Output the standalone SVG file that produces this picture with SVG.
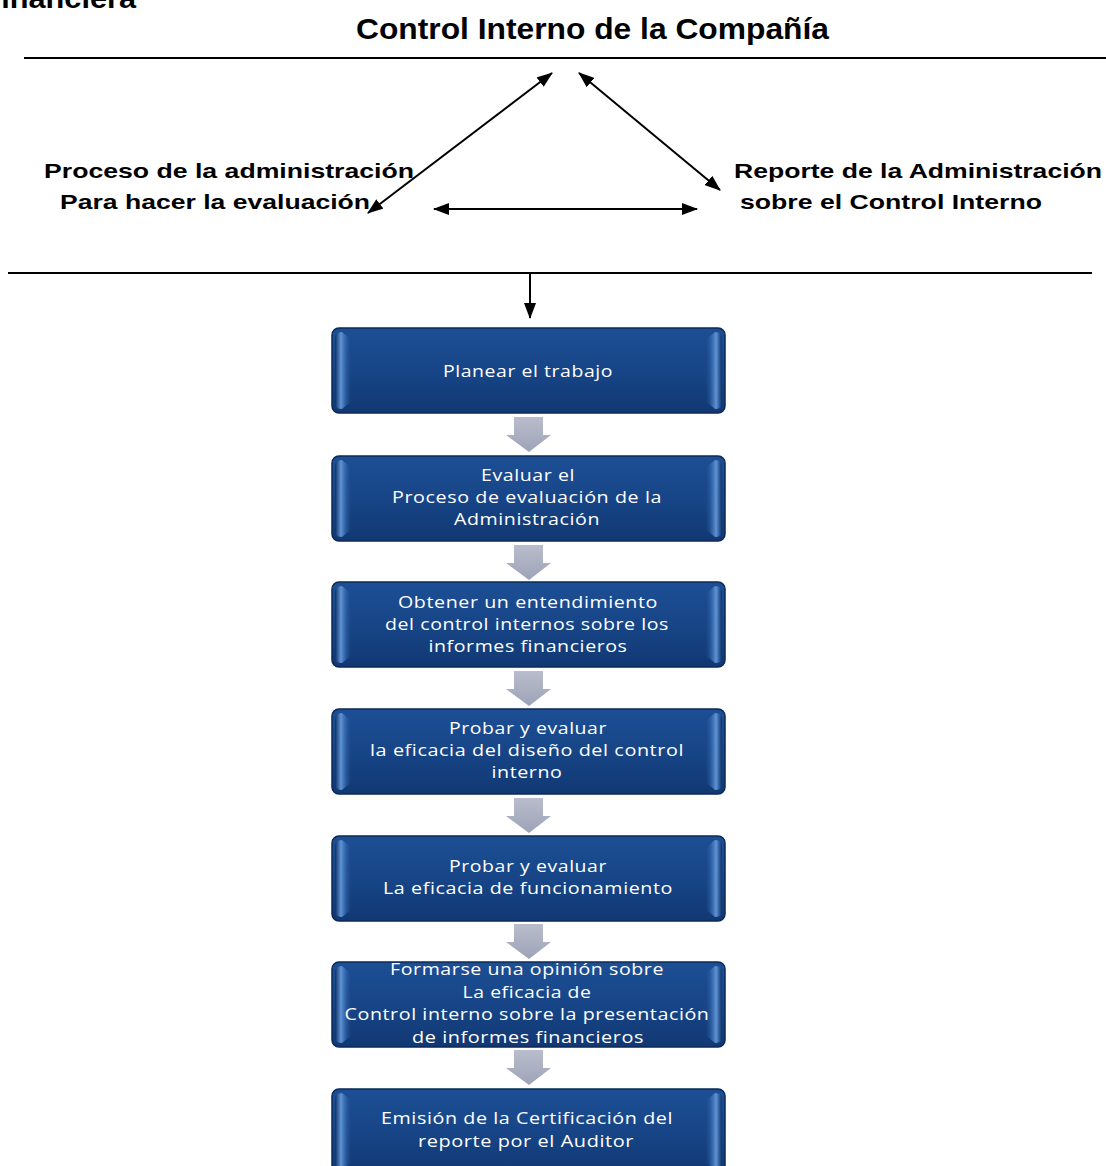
<svg xmlns="http://www.w3.org/2000/svg" width="1106" height="1166" viewBox="0 0 1106 1166">
  <defs>
    <style>
      .hdr { font-family: "Liberation Sans", Arial, sans-serif; font-weight: bold; fill: #000; }
      .rule { stroke: #000; stroke-width: 2; fill: none; }
      .conn { stroke: #000; stroke-width: 2; fill: none; }
      .box { fill: url(#boxFill); stroke: #0b2a58; stroke-width: 1.5; }
      .bevelL { fill: url(#bevelLeft); }
      .bevelR { fill: url(#bevelRight); }
      .lbl { font-family: "Open Sans", "Noto Sans", sans-serif; font-size: 17px; fill: #ffffff; text-anchor: middle; letter-spacing: 0.5px; }
      .step { fill: url(#stepFill); }
    </style>
    <linearGradient id="boxFill" x1="0" y1="0" x2="0" y2="1">
      <stop offset="0" stop-color="#1d4f95"/>
      <stop offset="0.5" stop-color="#174587"/>
      <stop offset="1" stop-color="#113873"/>
    </linearGradient>
    <linearGradient id="bevelLeft" x1="0" y1="0" x2="1" y2="0">
      <stop offset="0" stop-color="#0f3063" stop-opacity="0.9"/>
      <stop offset="0.35" stop-color="#5f95d8"/>
      <stop offset="1" stop-color="#1a4a8e" stop-opacity="0"/>
    </linearGradient>
    <linearGradient id="bevelRight" x1="1" y1="0" x2="0" y2="0">
      <stop offset="0" stop-color="#0f3063" stop-opacity="0.9"/>
      <stop offset="0.35" stop-color="#5f95d8"/>
      <stop offset="1" stop-color="#1a4a8e" stop-opacity="0"/>
    </linearGradient>
    <linearGradient id="stepFill" x1="0" y1="0" x2="0" y2="1">
      <stop offset="0" stop-color="#b9bdcc"/>
      <stop offset="1" stop-color="#9da3b8"/>
    </linearGradient>
    <marker id="head" viewBox="0 0 16 12" refX="15" refY="6" markerWidth="16" markerHeight="12" markerUnits="userSpaceOnUse" orient="auto-start-reverse">
      <path d="M0,0 L16,6 L0,12 Z" fill="#000"/>
    </marker>
    <!-- one process box with bevelled side highlights, at origin -->
    <g id="procBox">
      <rect class="box" x="0" y="0" width="393" height="85" rx="7" ry="7"/>
      <path class="bevelL" d="M3,10 Q3,4 10,4 L20,12 L20,73 L10,81 Q3,81 3,75 Z"/>
      <path class="bevelR" d="M390,10 Q390,4 383,4 L373,12 L373,73 L383,81 Q390,81 390,75 Z"/>
    </g>
    <!-- grey block arrow between steps -->
    <path id="stepArrow" class="step" d="M-15,0 L14,0 L14,18 L22,18 L0,35 L-23,18 L-15,18 Z"/>
  </defs>

  <!-- page heading, partly above the sheet -->
  <text class="hdr" x="-9" y="8" font-size="28" textLength="145" lengthAdjust="spacingAndGlyphs">financiera</text>

  <!-- top panel -->
  <g id="title">
    <text class="hdr" x="356" y="39" font-size="30" textLength="473" lengthAdjust="spacingAndGlyphs">Control Interno de la Compañía</text>
  </g>
  <line class="rule" x1="24" y1="58" x2="1106" y2="58"/>
  <line class="rule" x1="8" y1="273" x2="1092" y2="273"/>

  <g id="node-proceso">
    <text class="hdr" x="44" y="178" font-size="20.5" textLength="370" lengthAdjust="spacingAndGlyphs">Proceso de la administración</text>
    <text class="hdr" x="60" y="209" font-size="20.5" textLength="310" lengthAdjust="spacingAndGlyphs">Para hacer la evaluación</text>
  </g>
  <g id="node-reporte">
    <text class="hdr" x="734" y="178" font-size="20.5" textLength="368" lengthAdjust="spacingAndGlyphs">Reporte de la Administración</text>
    <text class="hdr" x="740" y="209" font-size="20.5" textLength="302" lengthAdjust="spacingAndGlyphs">sobre el Control Interno</text>
  </g>

  <!-- connectors -->
  <g id="connectors">
    <line class="conn" x1="368" y1="213" x2="552" y2="73" marker-start="url(#head)" marker-end="url(#head)"/>
    <line class="conn" x1="579" y1="73" x2="720" y2="190" marker-start="url(#head)" marker-end="url(#head)"/>
    <line class="conn" x1="434" y1="209" x2="697" y2="209" marker-start="url(#head)" marker-end="url(#head)"/>
    <line class="conn" x1="530" y1="273" x2="530" y2="318" marker-end="url(#head)"/>
    <use href="#stepArrow" x="529" y="417"/>
    <use href="#stepArrow" x="529" y="545"/>
    <use href="#stepArrow" x="529" y="671"/>
    <use href="#stepArrow" x="529" y="798"/>
    <use href="#stepArrow" x="529" y="924"/>
    <use href="#stepArrow" x="529" y="1050"/>
  </g>

  <!-- process steps -->
  <g id="step-1">
    <use href="#procBox" x="332" y="328"/>
    <text class="lbl" x="528" y="377" textLength="170" lengthAdjust="spacingAndGlyphs">Planear el trabajo</text>
  </g>
  <g id="step-2">
    <use href="#procBox" x="332" y="456"/>
    <text class="lbl" x="528" y="481" textLength="94" lengthAdjust="spacingAndGlyphs">Evaluar el</text>
    <text class="lbl" x="527" y="503" textLength="270" lengthAdjust="spacingAndGlyphs">Proceso de evaluación de la</text>
    <text class="lbl" x="527" y="525" textLength="146" lengthAdjust="spacingAndGlyphs">Administración</text>
  </g>
  <g id="step-3">
    <use href="#procBox" x="332" y="582"/>
    <text class="lbl" x="528" y="608" textLength="260" lengthAdjust="spacingAndGlyphs">Obtener un entendimiento</text>
    <text class="lbl" x="527" y="630" textLength="284" lengthAdjust="spacingAndGlyphs">del control internos sobre los</text>
    <text class="lbl" x="528" y="652" textLength="199" lengthAdjust="spacingAndGlyphs">informes financieros</text>
  </g>
  <g id="step-4">
    <use href="#procBox" x="332" y="709"/>
    <text class="lbl" x="528" y="734" textLength="158" lengthAdjust="spacingAndGlyphs">Probar y evaluar</text>
    <text class="lbl" x="527" y="756" textLength="314" lengthAdjust="spacingAndGlyphs">la eficacia del diseño del control</text>
    <text class="lbl" x="527" y="778" textLength="71" lengthAdjust="spacingAndGlyphs">interno</text>
  </g>
  <g id="step-5">
    <use href="#procBox" x="332" y="836"/>
    <text class="lbl" x="528" y="872" textLength="158" lengthAdjust="spacingAndGlyphs">Probar y evaluar</text>
    <text class="lbl" x="528" y="894" textLength="290" lengthAdjust="spacingAndGlyphs">La eficacia de funcionamiento</text>
  </g>
  <g id="step-6">
    <use href="#procBox" x="332" y="962"/>
    <text class="lbl" x="527" y="975" textLength="274" lengthAdjust="spacingAndGlyphs">Formarse una opinión sobre</text>
    <text class="lbl" x="527" y="998" textLength="129" lengthAdjust="spacingAndGlyphs">La eficacia de</text>
    <text class="lbl" x="527" y="1020" textLength="365" lengthAdjust="spacingAndGlyphs">Control interno sobre la presentación</text>
    <text class="lbl" x="528" y="1043" textLength="232" lengthAdjust="spacingAndGlyphs">de informes financieros</text>
  </g>
  <g id="step-7">
    <use href="#procBox" x="332" y="1089"/>
    <text class="lbl" x="527" y="1124" textLength="292" lengthAdjust="spacingAndGlyphs">Emisión de la Certificación del</text>
    <text class="lbl" x="526" y="1147" textLength="216" lengthAdjust="spacingAndGlyphs">reporte por el Auditor</text>
  </g>
</svg>
